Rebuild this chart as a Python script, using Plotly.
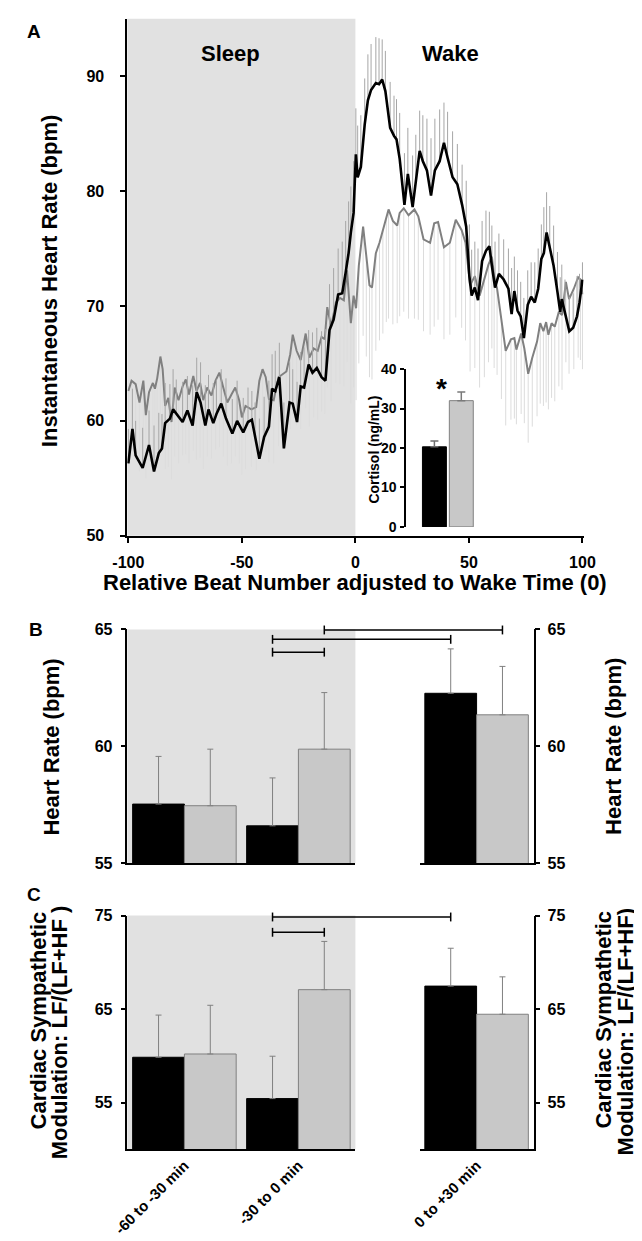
import plotly.graph_objects as go

W, H = 642, 1241
FONT = "Liberation Sans, Arial, sans-serif"
NARROW = "Liberation Sans Narrow, Arial Narrow, Liberation Sans, Arial, sans-serif"

# ---------------- Panel A data ----------------
beat_black = [-100, -98.2, -96.8, -93.7, -90.9, -88.7, -86.6, -85.2, -83.8, -81.7, -80.3, -78.9, -76.1, -74, -71.7,
              -69.9, -68.2, -66.1, -64.7, -62.6, -61.2, -59.1, -57, -54.2, -52.1, -49.4, -47.3, -45.6, -44.2, -42.3,
              -40.2, -38.1, -36.7, -35.3, -33.5, -31.5, -29, -27.6, -25.7, -24.1, -22.6, -20.6, -18.9, -17, -14.9,
              -13.2, -11.4, -9.6, -7.6, -5.8, -4.3, -3, -2, -0.8, 0.2, 1, 2.4, 4.1, 5.5, 6.9, 9, 10.4, 11.8, 13.2,
              15.3, 17, 18.1, 19.5, 21.6, 23.1, 25.2, 26.6, 28.3, 29.7, 31.5, 33.3, 35, 37.1, 39, 40.6, 42.8, 44.9,
              47, 48.8, 50.2, 51.2, 52.6, 54, 55.8, 57.5, 59, 60.1, 61.5, 63.2, 65.3, 67.4, 68.8, 70, 71.4, 72.8,
              74.2, 75.9, 77.4, 79, 80.5, 81.9, 83, 84.2, 85.6, 87.3, 89, 90.2, 90.9, 92.3, 94.2, 95.9, 97.6, 98.7, 100]
hr_black = [56.3, 59.3, 57.0, 55.9, 57.9, 55.6, 57.2, 57.6, 59.8, 60.2, 61.0, 60.6, 59.9, 60.9, 59.6,
            62.5, 61.6, 59.6, 61.0, 59.8, 60.6, 61.5, 60.2, 58.9, 60.0, 59.0, 59.9, 60.1, 58.6, 56.7,
            58.6, 59.5, 62.8, 62.6, 63.8, 57.6, 61.6, 61.5, 59.9, 63.0, 62.9, 64.9, 64.2, 64.6, 63.8,
            63.5, 67.9, 68.8, 71.0, 71.1, 72.9, 74.6, 76.4, 78.1, 83.2, 81.2, 82.1, 85.8, 87.9, 88.8, 89.4, 89.3, 89.7, 88.7,
            85.5, 84.8, 84.5, 82.8, 78.8, 81.5, 78.6, 80.9, 83.5, 82.6, 81.8, 79.6, 81.8, 82.6, 84.2, 82.9, 81.2, 80.6,
            78.8, 76.9, 72.6, 70.9, 71.6, 70.5, 73.9, 74.8, 75.2, 73.5, 71.6, 72.8, 72.3, 71.5, 69.3, 71.3, 69.6, 69.1,
            67.2, 70.1, 70.8, 70.3, 71.5, 74.1, 74.6, 76.4, 75.2, 73.5, 71.2, 69.5, 70.6, 69.3, 67.8, 68.1, 69.1, 70.3, 72.3]
sem_black = [3.0, 3.5, 3.0, 3.5, 3.0, 4.0, 3.5, 3.0, 3.5, 3.0, 3.5, 3.0, 3.5, 3.0, 3.5,
             3.0, 3.5, 3.5, 3.0, 3.5, 3.0, 3.0, 3.5, 3.0, 3.5, 3.0, 3.0, 2.5, 3.0, 3.5,
             3.5, 4.0, 3.0, 3.5, 3.0, 4.0, 3.5, 3.0, 3.5, 3.0, 3.5, 3.0, 3.5, 3.5, 4.0,
             4.5, 4.0, 4.5, 4.0, 4.5, 4.5, 4.5, 4.0, 4.5, 4.0, 4.5, 4.5, 4.0, 4.0, 4.0, 4.0, 4.0, 3.5, 3.5,
             4.0, 3.5, 3.5, 4.0, 4.5, 4.0, 4.5, 4.0, 3.5, 4.0, 4.5, 5.0, 4.5, 4.5, 3.5, 4.0, 4.0, 3.5,
             3.5, 4.0, 4.5, 4.0, 4.0, 4.5, 3.5, 3.5, 3.0, 3.5, 4.0, 3.5, 3.5, 3.5, 4.0, 3.0, 3.5, 3.0,
             3.5, 3.0, 3.0, 3.5, 3.5, 3.0, 4.0, 3.5, 3.5, 3.5, 3.5, 3.0, 3.0, 3.0, 3.0, 3.0, 3.5, 2.5, 1.5]

beat_gray = [-100, -98.6, -96.8, -95.1, -93.4, -92.3, -90.9, -89.2, -88.3, -87.3, -85.9, -84.9, -83.8, -82.4, -81,
             -79.6, -77.9, -76.1, -74.7, -73.3, -71.4, -70, -68.4, -67, -65.3, -63.4, -61.6, -59.9, -58.2, -56.4,
             -54.6, -52.9, -51.2, -50, -48.4, -45.8, -43.7, -42.3, -40.9, -39.5, -38.1, -36, -33.9, -30.4, -28.7,
             -27.6, -25.9, -24.1, -21.9, -20.3, -18.4, -16.6, -14.9, -13.5, -12.4, -10.7, -8.6, -6.8, -5.1, -3.7,
             -2, -0.8, 0.3, 1.5, 3.4, 4.8, 6.2, 7.3, 9, 10.6, 12.1, 13.6, 14.6, 16.5, 18.4, 19.5, 21.3, 23.4, 26,
             27.7, 30, 32.9, 34.7, 36.4, 39, 41.6, 44.2, 46.8, 48.5, 50.5, 52.6, 54.7, 56.8, 58.6, 60.1, 61.1, 62.4,
             64.3, 66.2, 68.5, 70, 70.9, 73, 74.4, 76.1, 77.9, 80, 81.4, 82.8, 84, 85, 86.4, 87.8, 89.6, 91, 92.7,
             94.1, 96.2, 98.1, 99.1, 100]
hr_gray = [62.6, 63.5, 63.2, 61.6, 63.5, 60.5, 62.5, 63.3, 62.8, 63.7, 65.6, 64.5, 61.3, 62.0, 59.9,
           62.9, 61.8, 63.0, 63.6, 62.3, 63.9, 62.6, 63.3, 61.8, 62.9, 62.2, 63.5, 64.2, 62.9, 61.6,
           62.3, 62.9, 61.8, 60.3, 61.3, 61.0, 61.2, 63.5, 64.5, 63.8, 61.9, 61.8, 63.8, 64.3, 65.8,
           67.5, 66.1, 65.3, 67.6, 65.5, 66.3, 66.1, 67.3, 67.1, 69.9, 68.2, 70.3, 70.7, 70.5, 73.1,
           68.5, 70.9, 69.8, 73.5, 76.9, 74.6, 71.8, 71.6, 74.6, 75.5, 76.6, 77.6, 78.4, 77.4, 77.0, 78.1, 78.5, 77.9, 78.4,
           77.8, 75.8, 75.5, 77.2, 77.3, 75.1, 75.5, 77.5, 76.6, 75.5, 71.8, 72.6, 70.9, 72.3, 73.6, 74.3, 72.6, 71.5,
           68.9, 66.1, 67.1, 67.2, 66.2, 67.6, 66.3, 64.1, 65.5, 66.9, 68.5, 67.8, 68.6, 67.5, 68.5, 68.2, 69.5, 69.2, 72.1,
           70.6, 71.5, 72.5, 72.3, 71.0]
sem_gray = [6.5, 6.0, 6.5, 6.0, 7.0, 5.5, 6.0, 6.5, 6.0, 7.0, 8.0, 7.0, 5.5, 6.0, 5.0,
            6.0, 5.5, 6.0, 6.5, 6.0, 6.5, 6.0, 6.5, 6.0, 6.0, 5.5, 6.0, 6.5, 6.0, 5.5,
            6.0, 6.0, 5.5, 5.0, 5.5, 5.0, 5.5, 6.5, 7.0, 6.5, 5.5, 5.5, 6.0, 6.0, 6.5,
            7.0, 6.5, 6.0, 6.5, 6.0, 6.0, 6.0, 6.5, 6.5, 7.0, 6.5, 7.0, 7.5, 7.5, 8.0,
            7.0, 8.0, 8.0, 8.5, 9.5, 9.0, 8.0, 8.0, 8.5, 8.5, 9.0, 9.0, 9.5, 9.0, 8.5, 9.0, 9.0, 9.0, 9.5,
            9.0, 8.0, 8.0, 9.0, 8.5, 8.0, 8.0, 8.5, 8.5, 8.5, 7.5, 8.0, 8.0, 8.5, 8.5, 8.0, 8.0, 7.5,
            7.0, 6.5, 7.0, 7.0, 6.5, 7.0, 6.5, 6.0, 6.0, 6.5, 7.0, 6.5, 7.0, 6.5, 6.5, 6.5, 6.5, 6.5, 7.0,
            6.5, 7.0, 7.0, 7.0, 6.5]

WAKE_BEAT = 0
beat_ticks = [-100, -50, 0, 50, 100]
beat_ticktext = ["-100", "-50", "0", "50", "100"]
hr_ticks = [50, 60, 70, 80, 90]

# ---------------- Inset (cortisol) ----------------
cort_groups = [0, 1]
cort_mean = [20.3, 32.0]
cort_sem = [1.5, 2.2]
cort_ticks = [0, 10, 20, 30, 40]

# ---------------- Panels B and C ----------------
periods = ["-60 to -30 min", "-30 to 0 min", "0 to +30 min"]
hr_bar_black = [57.53, 56.6, 62.27]
hr_bar_black_sem = [2.04, 2.05, 1.9]
hr_bar_gray = [57.46, 59.88, 61.35]
hr_bar_gray_sem = [2.42, 2.42, 2.07]
hr_bar_ticks = [55, 60, 65]

lf_bar_black = [59.84, 55.42, 67.45]
lf_bar_black_sem = [4.51, 4.53, 4.05]
lf_bar_gray = [60.19, 67.07, 64.44]
lf_bar_gray_sem = [5.21, 5.16, 4.0]
lf_bar_ticks = [55, 65, 75]

# significance comparisons: (period_from, series_from, period_to, series_to)
hr_comparisons = [("-30 to 0 min", "gray", "0 to +30 min", "gray"),
                  ("-30 to 0 min", "black", "0 to +30 min", "black"),
                  ("-30 to 0 min", "black", "-30 to 0 min", "gray")]
lf_comparisons = [("-30 to 0 min", "black", "0 to +30 min", "black"),
                  ("-30 to 0 min", "black", "-30 to 0 min", "gray")]

# ---------------- layout geometry (pixels) ----------------
def px_x(p):
    return p / W


def px_y(p):
    return 1 - p / H


BLACK = "#000000"
GRAY_FILL = "#c8c8c8"
GRAY_EDGE = "#808080"
SHADE = "#e1e1e1"
BARGAP = 0.092

A_X = [px_x(108.8), px_x(585.2)]
A_Y = [px_y(527), px_y(2.75)]
A_XR = [-100.5, 100.5]
A_YR = [50, 95]

LEFT_X = [px_x(109), px_x(347)]
RIGHT_X = [px_x(414), px_x(533)]
B_Y = [px_y(859), px_y(622)]
B_YR = [55, 65]
C_Y = [px_y(1149), px_y(912)]
C_YR = [50, 75]

INS_X = [px_x(400), px_x(480)]
INS_Y = [px_y(518), px_y(358)]
INS_XR = [-1.05, 1.8]

fig = go.Figure()

# Panel A traces
fig.add_trace(go.Scatter(
    x=beat_gray, y=hr_gray, mode="lines", line=dict(color="#808080", width=2),
    error_y=dict(type="data", symmetric=False, array=[0] * len(sem_gray), arrayminus=sem_gray,
                 color="#dcdcdc", thickness=1, width=0),
    xaxis="x", yaxis="y", showlegend=False, hoverinfo="skip"))
fig.add_trace(go.Scatter(
    x=beat_black, y=hr_black, mode="lines", line=dict(color=BLACK, width=2.6),
    error_y=dict(type="data", symmetric=False, array=sem_black, arrayminus=[0] * len(sem_black),
                 color="#a6a6a6", thickness=1, width=0),
    xaxis="x", yaxis="y", showlegend=False, hoverinfo="skip"))

# Inset cortisol bars
fig.add_trace(go.Bar(
    x=[cort_groups[0]], y=[cort_mean[0]], width=0.89, marker=dict(color=BLACK, line=dict(color=BLACK, width=1)),
    error_y=dict(type="data", symmetric=False, array=[cort_sem[0]], arrayminus=[0], color="#6e6e6e",
                 thickness=1.5, width=4),
    xaxis="x6", yaxis="y6", showlegend=False, hoverinfo="skip"))
fig.add_trace(go.Bar(
    x=[cort_groups[1]], y=[cort_mean[1]], width=0.89,
    marker=dict(color=GRAY_FILL, line=dict(color=GRAY_EDGE, width=1)),
    error_y=dict(type="data", symmetric=False, array=[cort_sem[1]], arrayminus=[0], color="#7a7a7a",
                 thickness=1.5, width=4),
    xaxis="x6", yaxis="y6", showlegend=False, hoverinfo="skip"))


def add_bars(xa, ya, cats, vb, eb, vg, eg):
    fig.add_trace(go.Bar(
        x=cats, y=vb, marker=dict(color=BLACK, line=dict(color=BLACK, width=1)),
        error_y=dict(type="data", symmetric=False, array=eb, arrayminus=[0] * len(eb),
                     color=GRAY_EDGE, thickness=1, width=3),
        xaxis=xa, yaxis=ya, showlegend=False, hoverinfo="skip"))
    fig.add_trace(go.Bar(
        x=cats, y=vg, marker=dict(color=GRAY_FILL, line=dict(color=GRAY_EDGE, width=1)),
        error_y=dict(type="data", symmetric=False, array=eg, arrayminus=[0] * len(eg),
                     color=GRAY_EDGE, thickness=1, width=3),
        xaxis=xa, yaxis=ya, showlegend=False, hoverinfo="skip"))


add_bars("x2", "y2", periods[:2], hr_bar_black[:2], hr_bar_black_sem[:2], hr_bar_gray[:2], hr_bar_gray_sem[:2])
add_bars("x3", "y3", periods[2:], hr_bar_black[2:], hr_bar_black_sem[2:], hr_bar_gray[2:], hr_bar_gray_sem[2:])
add_bars("x4", "y4", periods[:2], lf_bar_black[:2], lf_bar_black_sem[:2], lf_bar_gray[:2], lf_bar_gray_sem[:2])
add_bars("x5", "y5", periods[2:], lf_bar_black[2:], lf_bar_black_sem[2:], lf_bar_gray[2:], lf_bar_gray_sem[2:])

tickfont = dict(family=NARROW, size=16, color=BLACK, weight="bold")
common_y = dict(showline=True, linecolor=BLACK, linewidth=1.5, ticks="outside", ticklen=5, tickwidth=1.5,
                tickcolor=BLACK, showgrid=False, zeroline=False, tickfont=tickfont, fixedrange=True)
cat_x = dict(type="category", showline=True, linecolor=BLACK, linewidth=1.5, ticks="", showgrid=False,
             zeroline=False, fixedrange=True)
cat_font = dict(family=FONT, size=15, color=BLACK, weight="bold")

layout = dict(
    width=W, height=H, margin=dict(l=0, r=0, t=0, b=0), paper_bgcolor="white", plot_bgcolor="rgba(0,0,0,0)",
    barmode="group", bargap=BARGAP, bargroupgap=0, showlegend=False,
    font=dict(family=FONT, color=BLACK),
    xaxis=dict(domain=A_X, range=A_XR, anchor="y", showline=True, linecolor=BLACK, linewidth=1.5,
               ticks="outside", ticklen=5, tickwidth=1.5, tickcolor=BLACK, tickvals=beat_ticks,
               ticktext=beat_ticktext, showgrid=False, zeroline=False, tickfont=tickfont,
               ticklabelstandoff=6, fixedrange=True),
    yaxis=dict(domain=A_Y, range=A_YR, anchor="x", tickvals=hr_ticks, ticklabelstandoff=13, **common_y),
    xaxis2=dict(domain=LEFT_X, range=[-0.5, 1.5], anchor="y2", showticklabels=False, **cat_x),
    yaxis2=dict(domain=B_Y, range=B_YR, anchor="x2", tickvals=hr_bar_ticks, ticklabelstandoff=5, **common_y),
    xaxis3=dict(domain=RIGHT_X, range=[-0.5, 0.5], anchor="y3", showticklabels=False, **cat_x),
    yaxis3=dict(domain=B_Y, range=B_YR, anchor="x3", side="right", tickvals=hr_bar_ticks, ticklabelstandoff=4,
                **common_y),
    xaxis4=dict(domain=LEFT_X, range=[-0.5, 1.5], anchor="y4", showticklabels=True, tickangle=-45,
                tickfont=cat_font, **cat_x),
    yaxis4=dict(domain=C_Y, range=C_YR, anchor="x4", tickvals=lf_bar_ticks, ticklabelstandoff=5, **common_y),
    xaxis5=dict(domain=RIGHT_X, range=[-0.5, 0.5], anchor="y5", showticklabels=True, tickangle=-45,
                tickfont=cat_font, **cat_x),
    yaxis5=dict(domain=C_Y, range=C_YR, anchor="x5", side="right", tickvals=lf_bar_ticks, ticklabelstandoff=4,
                **common_y),
    xaxis6=dict(domain=INS_X, range=INS_XR, anchor="y6", visible=False, fixedrange=True),
    yaxis6=dict(domain=INS_Y, range=[cort_ticks[0], cort_ticks[-1]], anchor="x6", tickvals=cort_ticks,
                showline=True, linecolor=BLACK, linewidth=1.5, ticks="outside", ticklen=4, tickwidth=1.5,
                tickcolor=BLACK, showgrid=False, zeroline=False, ticklabelstandoff=1,
                tickfont=dict(family=NARROW, size=14, color=BLACK, weight="bold"), fixedrange=True),
)
fig.update_layout(**layout)

shapes = []
# sleep shading
shapes.append(dict(type="rect", xref="x", yref="y domain", x0=A_XR[0], x1=WAKE_BEAT, y0=0, y1=1,
                   fillcolor=SHADE, line=dict(width=0), layer="below"))
for xr, yr in (("x2", "y2"), ("x4", "y4")):
    shapes.append(dict(type="rect", xref=f"{xr} domain", yref=f"{yr} domain", x0=0, x1=1, y0=0, y1=1,
                       fillcolor=SHADE, line=dict(width=0), layer="below"))


# significance brackets, positioned from the bar geometry
def bar_center_paper(period, series):
    idx = periods.index(period)
    if idx < 2:
        dom, rng, cat = LEFT_X, [-0.5, 1.5], idx
    else:
        dom, rng, cat = RIGHT_X, [-0.5, 0.5], idx - 2
    off = (1 - BARGAP) / 4 * (-1 if series == "black" else 1)
    v = cat + off
    return dom[0] + (v - rng[0]) / (rng[1] - rng[0]) * (dom[1] - dom[0])


def add_brackets(comps, ydom, levels_px):
    top = ydom[1]
    tick = 4.5 / H
    for (p0, s0, p1, s1), lv in zip(comps, levels_px):
        yy = top - lv / H
        x0 = bar_center_paper(p0, s0)
        x1 = bar_center_paper(p1, s1)
        shapes.append(dict(type="line", xref="paper", yref="paper", x0=x0, x1=x1, y0=yy, y1=yy,
                           line=dict(color=BLACK, width=1.5)))
        for xx in (x0, x1):
            shapes.append(dict(type="line", xref="paper", yref="paper", x0=xx, x1=xx, y0=yy - tick,
                               y1=yy + tick, line=dict(color=BLACK, width=1.5)))


add_brackets(hr_comparisons, B_Y, [0.5, 10, 23])
add_brackets(lf_comparisons, C_Y, [1.5, 17])
fig.update_layout(shapes=shapes)

ann = []


def text(x, y, s, size, angle=0, xref="paper", yref="paper", family=FONT):
    ann.append(dict(x=x, y=y, xref=xref, yref=yref, text=f"<b>{s}</b>", showarrow=False, textangle=angle,
                    font=dict(family=family, size=size, color=BLACK), xanchor="center", yanchor="middle"))


text(px_x(12), px_y(16), "A", 19)
text(px_x(14), px_y(622), "B", 19)
text(px_x(12), px_y(891), "C", 19)
text(-55, 92, "Sleep", 22, xref="x", yref="y")
text(42, 92, "Wake", 22, xref="x", yref="y")
text(px_x(28), px_y(268), "Instantaneous Heart Rate (bpm)", 22, angle=-90)
text(px_x(347), px_y(574), "Relative Beat Number adjusted to Wake Time (0)", 22)
text(px_x(366), px_y(440), "Cortisol (ng/mL)", 14, angle=-90)
text(0.25, 35.0, "*", 28, xref="x6", yref="y6")
text(px_x(30), px_y(741), "Heart Rate (bpm)", 22, angle=-90)
text(px_x(617), px_y(741), "Heart Rate (bpm)", 22, angle=-90)
text(px_x(16), px_y(1018), "Cardiac Sympathetic", 22, angle=-90)
text(px_x(39), px_y(1030), "Modulation: LF/(LF+HF )", 22, angle=-90)
text(px_x(606), px_y(1018), "Cardiac Sympathetic", 22, angle=-90)
text(px_x(629), px_y(1030), "Modulation: LF/(LF+HF)", 22, angle=-90)
fig.update_layout(annotations=ann)

fig.write_html("out.html")
